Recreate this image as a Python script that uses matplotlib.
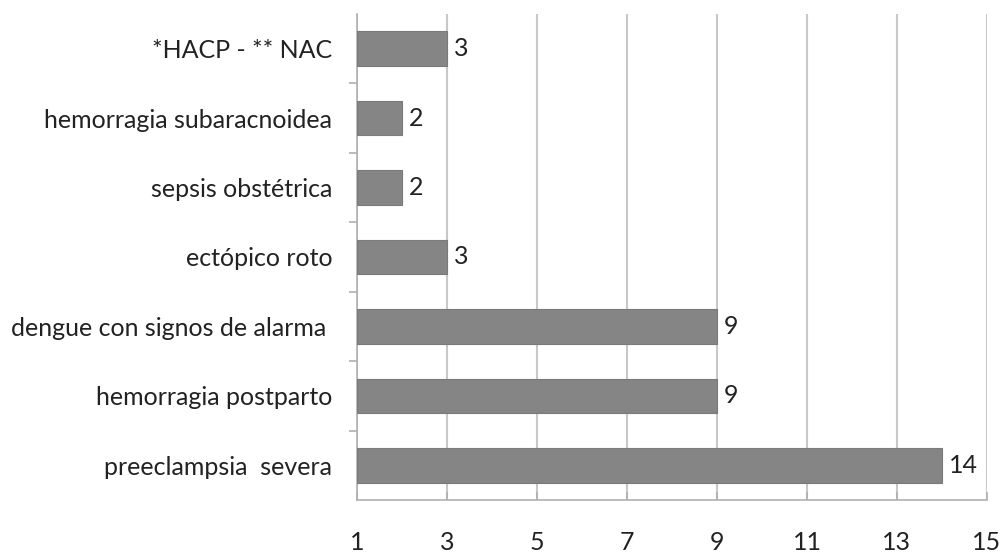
import matplotlib
matplotlib.use("Agg")
import matplotlib.pyplot as plt

categories = ["preeclampsia  severa", "hemorragia postparto", "dengue con signos de alarma ",
              "ectópico roto", "sepsis obstétrica", "hemorragia subaracnoidea", "*HACP - ** NAC"]
values = [14, 9, 9, 3, 2, 2, 3]
xticks = [1, 3, 5, 7, 9, 11, 13, 15]

plt.rcParams['font.family'] = ['Lato', 'DejaVu Sans']

fig = plt.figure(figsize=(10.06, 5.52), dpi=100)
ax = fig.add_axes([0.355, 0.094, 0.626, 0.881])

base = 1
ypos = list(range(len(categories)))
ax.barh(ypos, [v - base for v in values], left=base, height=0.5,
        color="#858585", edgecolor="#7a7a7a", linewidth=0.8, zorder=3)
for y, v in zip(ypos, values):
    ax.annotate(str(v), xy=(v, y), xytext=(5, 0), textcoords="offset points",
                va="center", ha="left", fontsize=18, color="#222222")

ax.set_xlim(1, 15)
ax.set_ylim(-0.5, len(categories) - 0.5)
ax.set_xticks(xticks)
ax.set_xticklabels([str(t) for t in xticks], fontsize=18, color="#222222")
ax.set_yticks(ypos)
ax.set_yticklabels(categories, fontsize=18, color="#222222")
ax.set_yticks([y + 0.5 for y in ypos[:-1]], minor=True)

ax.grid(axis="x", color="#c8c8c8", linewidth=1.5, zorder=0)
for s in ["top", "right"]:
    ax.spines[s].set_visible(False)
ax.spines["left"].set_color("#b0b0b0")
ax.spines["bottom"].set_color("#b0b0b0")
ax.spines["left"].set_linewidth(1.2)
ax.spines["bottom"].set_linewidth(1.2)
ax.tick_params(axis="y", which="major", length=0, pad=18)
ax.tick_params(axis="y", which="minor", length=6, color="#b0b0b0", width=1.2)
ax.tick_params(axis="x", which="major", length=6, color="#b0b0b0", width=1.2, pad=22,
               direction="in")

fig.savefig("out.png", dpi=100)
